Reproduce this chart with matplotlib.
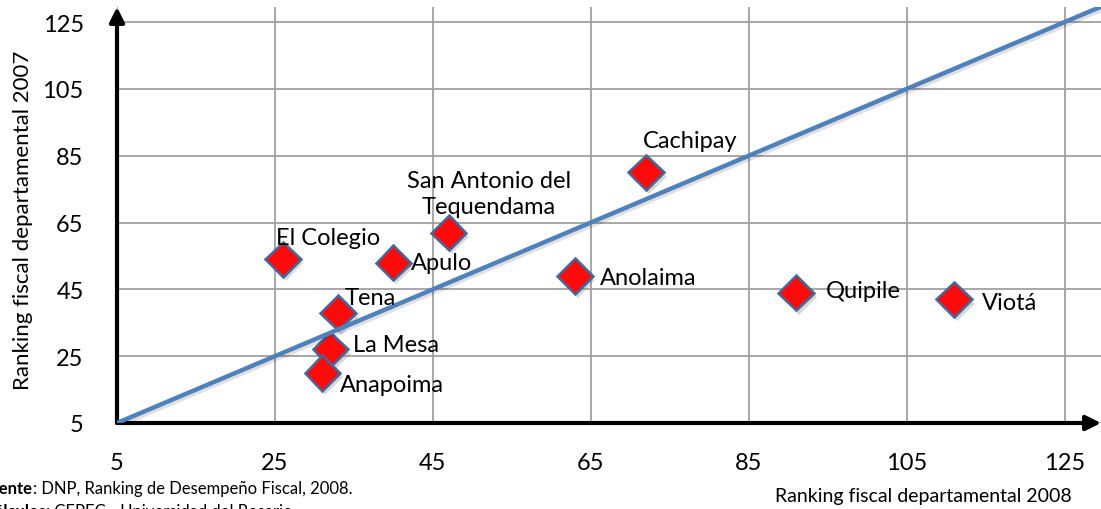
import matplotlib.pyplot as plt
import matplotlib.patheffects as pe

plt.rcParams['font.family'] = ['Lato', 'DejaVu Sans']

# Ranking 2008 (x) vs ranking 2007 (y) por municipio
municipios = ['El Colegio', 'Apulo', 'San Antonio del\nTequendama', 'Tena', 'La Mesa',
              'Anapoima', 'Cachipay', 'Anolaima', 'Quipile', 'Viotá']
rank_2008 = [26, 40, 47, 33, 32, 31, 72, 63, 91, 111]
rank_2007 = [54, 53, 62, 38, 27, 20, 80, 49, 44, 42]

# posicion de cada etiqueta respecto al marcador (pixeles)
offsets = [(-7, 22, 'left'), (18, 0, 'left'), (40, 39, 'center'), (7, 15, 'left'),
           (23, 5, 'left'), (18, -12, 'left'), (-3, 32, 'left'), (25, -2, 'left'),
           (30, 2, 'left'), (28, -3, 'left')]

ticks = [5, 25, 45, 65, 85, 105, 125]
diagonal = [5, 140]

fig = plt.figure(figsize=(11.01, 5.10), dpi=100)
ax = fig.add_axes([117 / 1101, 86 / 510, 1 - 117 / 1101, 416 / 510])
ax.set_xlim(5, 129.6)
ax.set_ylim(5, 129.5)

ax.set_xticks(ticks)
ax.set_yticks(ticks)
ax.tick_params(length=0, labelsize=17, pad=24, axis='y')
ax.tick_params(length=0, labelsize=17, pad=21, axis='x')
ax.grid(True, color='#a0a0a0', linewidth=1.3)
ax.set_axisbelow(True)
for s in ax.spines.values():
    s.set_visible(False)

# ejes con flecha
ax.annotate('', xy=(1.0, 0), xytext=(0, 0), xycoords='axes fraction',
            arrowprops=dict(arrowstyle='-|>', lw=3, color='black', mutation_scale=22,
                            shrinkA=0, shrinkB=0), annotation_clip=False)
ax.annotate('', xy=(0, 1.0), xytext=(0, 0), xycoords='axes fraction',
            arrowprops=dict(arrowstyle='-|>', lw=3, color='black', mutation_scale=22,
                            shrinkA=0, shrinkB=0), annotation_clip=False)

shadow = [pe.SimplePatchShadow(offset=(2, -3), alpha=0.3, shadow_rgbFace='gray'), pe.Normal()]
ax.plot(rank_2008, rank_2007, linestyle='none', marker='D', markersize=18,
        markerfacecolor='#ff0a0a', markeredgecolor='#45679a', markeredgewidth=1.8,
        clip_on=False, zorder=3, path_effects=shadow)

ax.plot(diagonal, diagonal, color='#4f81bd', linewidth=3.2, clip_on=True, zorder=4,
        path_effects=[pe.SimpleLineShadow(offset=(1, -2), alpha=0.12), pe.Normal()])

for name, x, y, (dx, dy, ha) in zip(municipios, rank_2008, rank_2007, offsets):
    ax.annotate(name, (x, y), xytext=(dx, dy), textcoords='offset pixels',
                ha=ha, va='center', fontsize=17, linespacing=1.3, zorder=5)

ax.set_ylabel('Ranking fiscal departamental 2007', fontsize=16)
ax.yaxis.set_label_coords(-84 / 984, 0.49)
fig.text(923 / 1101, 1 - 497 / 510, 'Ranking fiscal departamental 2008',
         ha='center', va='center', fontsize=14)

# fuente y calculos (cortados en el borde izquierdo)
fig.text(33 / 1101, 1 - 489 / 510, 'Fuente', ha='right', va='center', fontsize=12,
         fontweight='bold')
fig.text(33 / 1101, 1 - 489 / 510, ': DNP, Ranking de Desempeño Fiscal, 2008.',
         ha='left', va='center', fontsize=12)
fig.text(46 / 1101, 1 - 512 / 510, 'Cálculos', ha='right', va='center', fontsize=12,
         fontweight='bold')
fig.text(46 / 1101, 1 - 512 / 510, ': CEPEC - Universidad del Rosario',
         ha='left', va='center', fontsize=12)

fig.savefig('out.png', dpi=100)
